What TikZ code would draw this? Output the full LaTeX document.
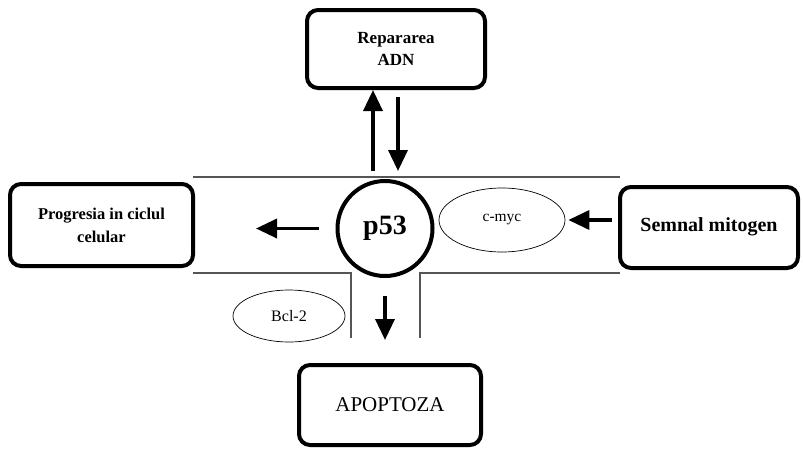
\documentclass[tikz,border=0pt]{standalone}
\usepackage{fontspec}
\setmainfont{Liberation Serif}
\usetikzlibrary{
    positioning,
    calc,
    shapes.geometric,
    arrows.meta
}
\definecolor{LinhaGri}{HTML}{555555}

\tikzset{
    caseta/.style={
        draw=black,
        line width=4pt,
        rounded corners=11pt,
        align=center
    },
    elipsa/.style={
        draw=black,
        ellipse,
        line width=0.7pt,
        inner sep=0pt
    },
    sageata/.style={
        line width=3.5pt,
        -{Triangle[length=21pt,width=19pt]}
    },
    perete/.style={
        draw=LinhaGri,
        line width=1.2pt
    }
}

\begin{document}
\begin{tikzpicture}[x=1pt,y=-1pt]

    \useasboundingbox (0,0) rectangle (803,450);

    % membrana
    \draw[perete] (193,177) -- (620,177);
    \draw[perete] (193,273) -- (351,273) -- (351,338);
    \draw[perete] (620,273) -- (420,273) -- (420,338);

    \node[caseta, minimum width=178pt, minimum height=78pt,
          font=\bfseries\fontsize{17}{22}\selectfont]
        (rep) at (396,49) {Repararea\\ADN};

    \node[caseta, minimum width=183pt, minimum height=82pt,
          font=\bfseries\fontsize{16.5}{23}\selectfont]
        (prog) at (101.5,225) {Progresia in ciclul\\celular};

    \node[caseta, minimum width=178pt, minimum height=81pt,
          font=\bfseries\fontsize{20}{22}\selectfont]
        (semn) at (709,227.5) {\raisebox{6pt}{Semnal mitogen}};

    \node[caseta, minimum width=182pt, minimum height=80pt,
          font=\fontsize{21}{23}\selectfont]
        (apo) at (390,405) {APOPTOZA};

    \node[circle, draw=black, line width=4pt, minimum size=95pt,
          font=\bfseries\fontsize{28}{30}\selectfont]
        (p53) at (385,228.5) {p53};

    \node[elipsa, minimum width=126pt, minimum height=64pt,
          font=\fontsize{15.5}{17}\selectfont]
        (myc) at (502,220) {\raisebox{4pt}{c-myc}};

    \node[elipsa, minimum width=112pt, minimum height=52pt,
          font=\fontsize{16}{18}\selectfont]
        (bcl) at (289,316) {Bcl-2};

    % sagetile
    \draw[sageata] ([xshift=-12pt,yshift=8pt]p53.north)
        -- ([xshift=-12pt]p53.north |- rep.south);
    \draw[sageata] ([xshift=13pt,yshift=-7pt]p53.north |- rep.south)
        -- ([xshift=13pt,yshift=8pt]p53.north);
    \draw[sageata] ([xshift=-17pt]p53.west)
        -- ([xshift=61pt]prog.east |- p53.west);
    \draw[sageata] ([xshift=-6pt]semn.west |- myc.east)
        -- ([xshift=3pt]myc.east);
    \draw[sageata] ([yshift=-18pt]p53.south)
        -- ([yshift=23pt]p53.south |- apo.north);

\end{tikzpicture}
\end{document}
